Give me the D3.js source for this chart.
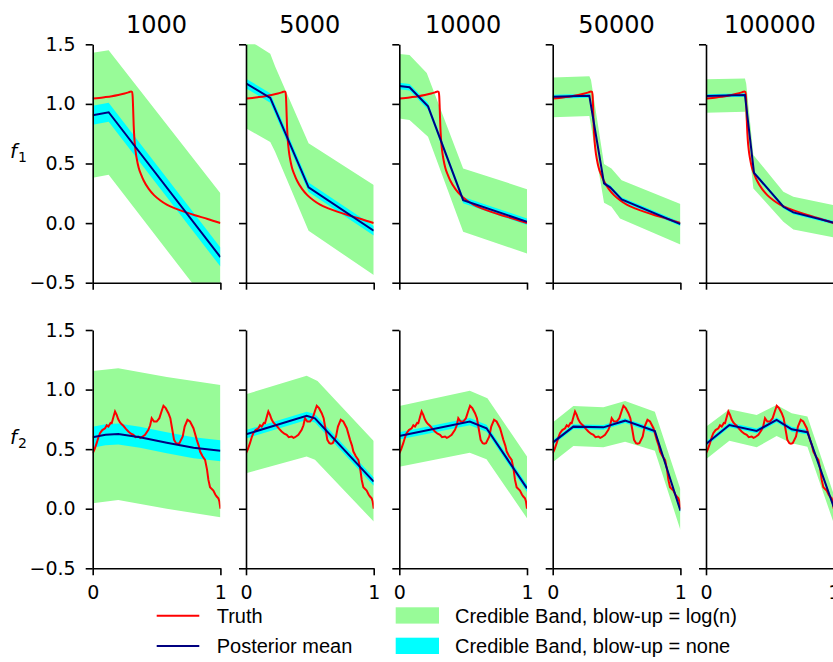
<!DOCTYPE html>
<html>
<head>
<meta charset="utf-8">
<script src="https://cdn.jsdelivr.net/npm/d3@7"></script>
<style>
  body { margin: 0; background: #fff; }
  svg { display: block; }
  .tick text { font-family: "DejaVu Sans", sans-serif; font-size: 19px; fill: #000; }
  .legend text { font-family: "Liberation Sans", Arial, sans-serif; font-size: 20px; fill: #000; }
</style>
</head>
<body>
<svg id="chart" width="833" height="662"></svg>
<script>
// sample sizes (column titles)
const colTitles = ["1000", "5000", "10000", "50000", "100000"];
const rowNames = ["1", "2"];
const yTicks = [-0.5, 0, 0.5, 1, 1.5];
const xTicks = [0, 1];

// true functions
const truthF1 = [[0,1.046],[0.05,1.05],[0.1,1.057],[0.15,1.065],[0.2,1.075],[0.25,1.087],[0.28,1.097],
  [0.3,1.104],[0.308,1.1],[0.313,1.06],[0.317,0.95],[0.321,0.82],[0.327,0.7],[0.335,0.61],[0.345,0.54],
  [0.36,0.465],[0.38,0.405],[0.4,0.355],[0.44,0.285],[0.48,0.235],[0.53,0.19],[0.58,0.155],
  [0.65,0.122],[0.72,0.094],[0.8,0.066],[0.9,0.035],[1,0.0]];
const truthF2 = [[0,0.466],[0.015,0.5],[0.031,0.55],[0.045,0.6],[0.057,0.634],[0.075,0.66],[0.097,0.675],
  [0.11,0.7],[0.123,0.69],[0.14,0.72],[0.149,0.718],[0.165,0.78],[0.175,0.816],[0.188,0.788],[0.2,0.75],
  [0.214,0.724],[0.225,0.71],[0.24,0.696],[0.26,0.67],[0.279,0.648],[0.3,0.63],[0.319,0.62],[0.335,0.6],
  [0.358,0.606],[0.372,0.595],[0.384,0.6],[0.41,0.62],[0.436,0.662],[0.45,0.7],[0.462,0.76],[0.48,0.732],
  [0.501,0.732],[0.522,0.76],[0.54,0.82],[0.554,0.864],[0.572,0.844],[0.593,0.802],[0.608,0.76],
  [0.619,0.69],[0.637,0.578],[0.653,0.55],[0.665,0.545],[0.679,0.55],[0.705,0.606],[0.72,0.69],
  [0.742,0.746],[0.762,0.732],[0.789,0.676],[0.815,0.578],[0.83,0.53],[0.841,0.48],[0.86,0.44],
  [0.88,0.41],[0.895,0.33],[0.906,0.242],[0.919,0.18],[0.945,0.152],[0.96,0.12],[0.971,0.102],
  [0.984,0.088],[0.992,0.06],[1,0.0]];

// posterior means, f1, per sample size
const meanF1 = [
  [[0,0.905],[0.125,0.93],[1,-0.285]],
  [[0,1.172],[0.19,1.05],[0.49,0.30],[1,-0.064]],
  [[0,1.15],[0.08,1.14],[0.225,0.98],[0.5,0.193],[1,0.011]],
  [[0,1.06],[0.287,1.068],[0.402,0.333],[0.45,0.30],[0.54,0.199],[1,-0.008]],
  [[0,1.066],[0.305,1.074],[0.376,0.422],[0.606,0.137],[0.684,0.09],[1,0.003]]
];
// credible band blow-up = log(n), upper / lower edges, f1
const hiF1 = [
  [[0,1.43],[0.125,1.45],[1,0.25]],
  [[0,1.55],[0.19,1.42],[0.23,1.31],[0.49,0.67],[1,0.32]],
  [[0,1.418],[0.08,1.41],[0.215,1.26],[0.5,0.459],[1,0.285]],
  [[0,1.222],[0.287,1.233],[0.30,1.2],[0.402,0.495],[0.46,0.459],[0.54,0.36],[1,0.16]],
  [[0,1.206],[0.305,1.214],[0.315,1.17],[0.371,0.571],[0.606,0.263],[0.684,0.221],[1,0.151]]
];
const loF1 = [
  [[0,0.38],[0.125,0.405],[1,-0.81]],
  [[0,0.795],[0.19,0.68],[0.227,0.60],[0.49,-0.064],[1,-0.436]],
  [[0,0.878],[0.08,0.864],[0.225,0.724],[0.5,-0.073],[1,-0.255]],
  [[0,0.887],[0.287,0.898],[0.402,0.17],[0.46,0.137],[0.527,0.039],[1,-0.179]],
  [[0,0.926],[0.305,0.934],[0.371,0.29],[0.606,0.011],[0.684,-0.053],[1,-0.12]]
];
// credible band blow-up = none, half widths
const cyanF1 = [0.08, 0.04, 0.027, 0.017, 0.015];

// posterior means, f2
const meanF2 = [
  [[0,0.599],[0.1,0.62],[0.2,0.627],[0.37,0.599],[0.58,0.554],[0.79,0.512],[1,0.487]],
  [[0,0.625],[0.475,0.779],[0.54,0.759],[1,0.228]],
  [[0,0.611],[0.552,0.731],[0.683,0.675],[1,0.171]],
  [[0,0.555],[0.162,0.689],[0.397,0.683],[0.567,0.739],[0.8,0.652],[1,-0.016]],
  [[0,0.543],[0.183,0.703],[0.397,0.653],[0.553,0.745],[0.671,0.667],[0.794,0.642],[1,0.015]]
];
const hiF2 = [
  [[0,1.156],[0.2,1.18],[0.58,1.105],[1,1.039]],
  [[0,0.961],[0.475,1.115],[0.56,1.073],[1,0.569]],
  [[0,0.863],[0.552,0.991],[0.69,0.927],[1,0.438]],
  [[0,0.723],[0.162,0.863],[0.397,0.852],[0.567,0.905],[0.8,0.813],[1,0.164]],
  [[0,0.689],[0.183,0.835],[0.397,0.787],[0.553,0.871],[0.671,0.801],[0.794,0.773],[1,0.12]]
];
const loF2 = [
  [[0,0.046],[0.2,0.074],[0.58,0.0],[1,-0.071]],
  [[0,0.298],[0.475,0.438],[0.54,0.41],[1,-0.107]],
  [[0,0.353],[0.552,0.47],[0.683,0.415],[1,-0.08]],
  [[0,0.39],[0.162,0.527],[0.397,0.515],[0.567,0.563],[0.8,0.487],[1,-0.178]],
  [[0,0.415],[0.183,0.571],[0.397,0.515],[0.553,0.61],[0.671,0.549],[0.794,0.521],[1,-0.12]]
];
const cyanF2 = [0.088, 0.035, 0.03, 0.02, 0.02];

const rows = [
  {truth: truthF1, mean: meanF1, hi: hiF1, lo: loF1, cyan: cyanF1},
  {truth: truthF2, mean: meanF2, hi: hiF2, lo: loF2, cyan: cyanF2}
];

const svg = d3.select("#chart");

const panelW = 127.7;
const panelLeft = [92.7, 246, 399.3, 552.7, 706];
const panelTop = [44.3, 330];
const panelBottom = [282.7, 568.3];

rows.forEach(function (r, ri) {
  colTitles.forEach(function (title, ci) {
    const x = d3.scaleLinear().domain([0, 1]).range([panelLeft[ci], panelLeft[ci] + panelW]);
    const y = d3.scaleLinear().domain([-0.5, 1.5]).range([panelBottom[ri], panelTop[ri]]);
    const line = d3.line().x(d => x(d[0])).y(d => y(d[1]));

    const clipId = "clip-" + ri + "-" + ci;
    svg.append("clipPath").attr("id", clipId)
      .append("rect")
      .attr("x", x(0)).attr("y", y(1.5))
      .attr("width", x(1) - x(0)).attr("height", y(-0.5) - y(1.5));

    const g = svg.append("g").attr("clip-path", "url(#" + clipId + ")");

    // wide band
    const band = r.hi[ci].concat(r.lo[ci].slice().reverse());
    g.append("path")
      .attr("d", line(band) + "Z")
      .attr("fill", "#98fb98");

    // narrow band
    const hw = r.cyan[ci];
    const up = r.mean[ci].map(d => [d[0], d[1] + hw]);
    const dn = r.mean[ci].map(d => [d[0], d[1] - hw]).reverse();
    g.append("path")
      .attr("d", line(up.concat(dn)) + "Z")
      .attr("fill", "#00ffff");

    g.append("path")
      .attr("d", line.curve(ri === 0 ? d3.curveMonotoneX : d3.curveLinear)(r.truth))
      .attr("fill", "none")
      .attr("stroke", "#ff0000")
      .attr("stroke-width", 2);
    line.curve(d3.curveLinear);

    g.append("path")
      .attr("d", line(r.mean[ci]))
      .attr("fill", "none")
      .attr("stroke", "#000080")
      .attr("stroke-width", 2);

    // axes, left and bottom spines only
    const ya = svg.append("g")
      .attr("transform", "translate(" + x(0) + ",0)")
      .call(d3.axisLeft(y).tickValues(yTicks).tickSize(7).tickSizeOuter(0).tickPadding(10)
        .tickFormat(ci === 0 ? d3.format(".1f") : ""));
    const xa = svg.append("g")
      .attr("transform", "translate(0," + y(-0.5) + ")")
      .call(d3.axisBottom(x).tickValues(xTicks).tickSize(7).tickSizeOuter(0).tickPadding(10)
        .tickFormat(ri === 1 ? d3.format("d") : ""));
    [ya, xa].forEach(function (a) {
      a.selectAll("path, line").attr("stroke", "#000").attr("stroke-width", 1.6);
    });

    if (ri === 0) {
      svg.append("text")
        .attr("x", (x(0) + x(1)) / 2)
        .attr("y", 32.7)
        .attr("text-anchor", "middle")
        .style("font-family", "DejaVu Sans, sans-serif")
        .style("font-size", "24px")
        .text(title);
    }
  });

  // row label f_1 / f_2
  const lbl = svg.append("text")
    .attr("x", 10)
    .attr("y", 158 + ri * 285.7)
    .style("font-family", "DejaVu Sans, sans-serif")
    .style("font-size", "20px");
  lbl.append("tspan").style("font-style", "italic").text("f");
  lbl.append("tspan").attr("dy", 4).attr("dx", 1).style("font-size", "14px").text(rowNames[ri]);
});

// legend
const legend = svg.append("g").attr("class", "legend");
const lineItems = [["Truth", "#ff0000", 615.7], ["Posterior mean", "#000080", 646]];
lineItems.forEach(function (d) {
  legend.append("line")
    .attr("x1", 156.7).attr("x2", 199.3)
    .attr("y1", d[2]).attr("y2", d[2])
    .attr("stroke", d[1]).attr("stroke-width", 2);
  legend.append("text").attr("x", 216.7).attr("y", d[2] + 7).text(d[0]);
});
const patchItems = [["Credible Band, blow-up = log(n)", "#98fb98", 607.3], ["Credible Band, blow-up = none", "#00ffff", 637.7]];
patchItems.forEach(function (d) {
  legend.append("rect")
    .attr("x", 395.7).attr("y", d[2])
    .attr("width", 43.3).attr("height", 16.3)
    .attr("fill", d[1]);
  legend.append("text").attr("x", 455).attr("y", d[2] + 15.3).text(d[0]);
});
</script>
</body>
</html>
